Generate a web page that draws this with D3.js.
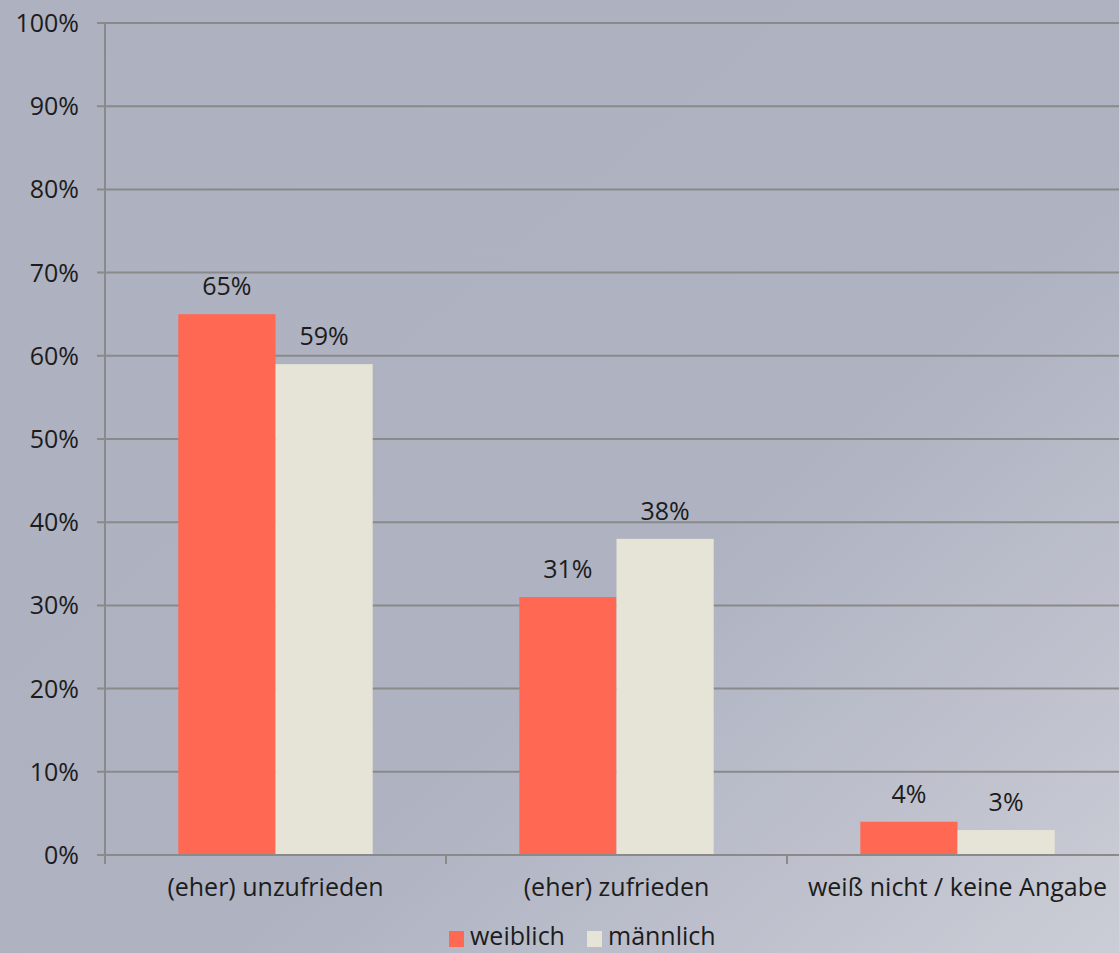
<!DOCTYPE html>
<html><head><meta charset="utf-8">
<script src="https://cdn.jsdelivr.net/npm/d3@7"></script>
<style>html,body{margin:0;padding:0;overflow:hidden;}svg{display:block;}</style>
</head><body>
<script>
const categories = ["(eher) unzufrieden", "(eher) zufrieden", "weiß nicht / keine Angabe"];
const seriesNames = ["weiblich", "männlich"];
const weiblich = [65, 31, 4];
const maennlich = [59, 38, 3];
const yTicks = [0,10,20,30,40,50,60,70,80,90,100];
const colors = ["#ff6853", "#e6e4d6"];

const W = 1119, H = 953;
const font = "'Open Sans', sans-serif";
const fs = 25;
const txt = "#1c1c1c";
const svg = d3.select("body").append("svg").attr("width", W).attr("height", H);
const defs = svg.append("defs");
const grad = defs.append("linearGradient").attr("id","bg").attr("x1","0").attr("y1","0").attr("x2","1").attr("y2","1");
grad.append("stop").attr("offset","0").attr("stop-color","#adb1c0");
grad.append("stop").attr("offset","0.6").attr("stop-color","#aeb2c1");
grad.append("stop").attr("offset","1").attr("stop-color","#cbcdd6");
svg.append("rect").attr("width",W).attr("height",H).attr("fill","url(#bg)");

const x0 = 105, x1 = 1128;
const x = d3.scaleBand().domain(categories).range([x0, x1]).paddingInner(0.43).paddingOuter(0.215);
const xs = d3.scaleBand().domain(seriesNames).range([0, x.bandwidth()]);
const y = d3.scaleLinear().domain([0,100]).range([855, 23]);

// gridlines
svg.append("g").selectAll("line").data(yTicks).join("line")
  .attr("x1", 97).attr("x2", W).attr("y1", d=>y(d)).attr("y2", d=>y(d))
  .attr("stroke","#8a8a8a").attr("stroke-width",2);
// y axis line
svg.append("line").attr("x1",x0).attr("x2",x0).attr("y1",y(100)).attr("y2",864)
  .attr("stroke","#8a8a8a").attr("stroke-width",2);
// y labels
svg.append("g").selectAll("text").data(yTicks).join("text")
  .attr("x", 79).attr("y", d=>y(d)+9).attr("text-anchor","end")
  .attr("font-family",font).attr("font-size",fs).attr("fill",txt)
  .text(d=>d+"%");

const data = categories.map((c,i)=>({cat:c, vals:[{s:seriesNames[0],v:weiblich[i]},{s:seriesNames[1],v:maennlich[i]}]}));
const g = svg.append("g").selectAll("g").data(data).join("g")
  .attr("transform", d=>`translate(${x(d.cat)},0)`);
g.selectAll("rect").data(d=>d.vals).join("rect")
  .attr("x", d=>xs(d.s)).attr("width", xs.bandwidth())
  .attr("y", d=>y(d.v)).attr("height", d=>y(0)-y(d.v))
  .attr("fill", (d,i)=>colors[i]);
g.selectAll("text").data(d=>d.vals).join("text")
  .attr("x", d=>xs(d.s)+xs.bandwidth()/2).attr("y", d=>y(d.v)-19)
  .attr("text-anchor","middle").attr("font-family",font).attr("font-size",fs).attr("fill",txt)
  .text(d=>d.v+"%");

// x axis baseline
svg.append("line").attr("x1",97).attr("x2",W).attr("y1",y(0)).attr("y2",y(0)).attr("stroke","#8a8a8a").attr("stroke-width",2);
// category ticks
const step = x.step();
svg.append("g").selectAll("line").data([1,2]).join("line")
  .attr("x1", d=>x0+step*d).attr("x2", d=>x0+step*d).attr("y1", y(0)).attr("y2", 864)
  .attr("stroke","#8a8a8a").attr("stroke-width",2);
// category labels
svg.append("g").selectAll("text").data(categories).join("text")
  .attr("x", d=>x(d)+x.bandwidth()/2).attr("y", 896).attr("text-anchor","middle")
  .attr("font-family",font).attr("font-size",fs).attr("fill",txt).text(d=>d);

// legend
const leg = svg.append("g");
const legX = [449, 587];
seriesNames.forEach((s,i)=>{
  leg.append("rect").attr("x",legX[i]).attr("y",931).attr("width",15).attr("height",16).attr("fill",colors[i]);
  leg.append("text").attr("x",legX[i]+21).attr("y",945).attr("font-family",font).attr("font-size",fs).attr("fill",txt).text(s);
});
</script>
</body></html>
